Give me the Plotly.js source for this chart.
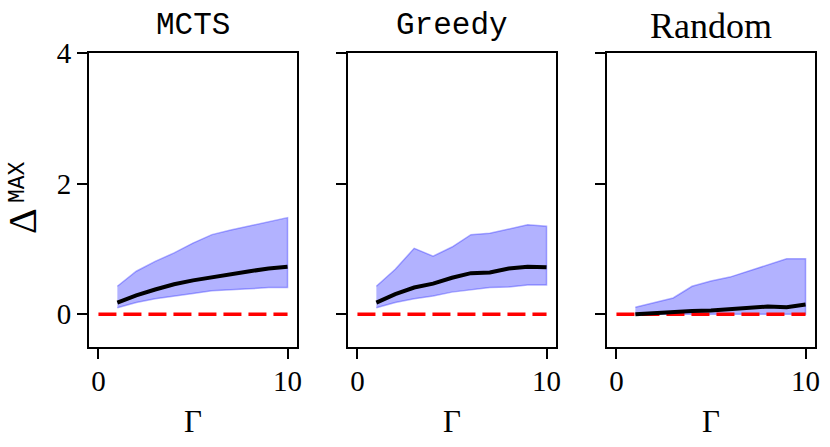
<!DOCTYPE html>
<html>
<head>
<meta charset="utf-8">
<script src="https://cdn.plot.ly/plotly-3.0.1.min.js"></script>
<style>
  html, body { margin: 0; padding: 0; background: #fff; }
  #chart { width: 830px; height: 447px; }
</style>
</head>
<body>
<div id="chart"></div>
<script>
// Gamma values shared by all three panels
const gamma = [1, 2, 3, 4, 5, 6, 7, 8, 9, 10];

// MCTS
const mctsMean  = [0.18, 0.29, 0.38, 0.46, 0.52, 0.57, 0.62, 0.66, 0.70, 0.73];
const mctsUpper = [0.43, 0.66, 0.81, 0.94, 1.09, 1.22, 1.29, 1.35, 1.42, 1.48];
const mctsLower = [0.10, 0.18, 0.24, 0.28, 0.32, 0.36, 0.37, 0.39, 0.41, 0.41];

// Greedy
const greedyMean  = [0.18, 0.31, 0.41, 0.47, 0.56, 0.63, 0.64, 0.70, 0.73, 0.72];
const greedyUpper = [0.43, 0.69, 1.01, 0.89, 1.03, 1.22, 1.24, 1.31, 1.37, 1.35];
const greedyLower = [0.10, 0.18, 0.24, 0.28, 0.34, 0.37, 0.41, 0.42, 0.45, 0.45];

// Random
const randomMean  = [0.00, 0.02, 0.03, 0.05, 0.06, 0.08, 0.10, 0.12, 0.11, 0.15];
const randomUpper = [0.11, 0.18, 0.25, 0.43, 0.51, 0.57, 0.66, 0.76, 0.85, 0.85];
const randomLower = [0.00, 0.00, 0.00, 0.00, 0.00, 0.00, 0.00, 0.00, 0.00, 0.00];

// Zero reference line
const zeroX = [0, 10];
const zeroY = [0, 0];

const panelTitles = ['MCTS', 'Greedy', 'Random'];
const panelFonts = ['Liberation Mono', 'Liberation Mono', 'Liberation Serif'];
const xTicks = [0, 10];
const yTicks = [0, 2, 4];

const panels = [
    { mean: mctsMean, upper: mctsUpper, lower: mctsLower },
    { mean: greedyMean, upper: greedyUpper, lower: greedyLower },
    { mean: randomMean, upper: randomUpper, lower: randomLower }
];

const W = 830, H = 447;
const panelLeft = [89, 348, 607];
const panelWidth = 208;
const plotTop = 53, plotBottom = 347;

const serif = 'Liberation Serif';
const mono = 'Liberation Mono';

const traces = [];
panels.forEach((p, i) => {
    const xa = i === 0 ? 'x' : 'x' + (i + 1);
    const ya = i === 0 ? 'y' : 'y' + (i + 1);
    // band polygon: upper forward, lower reversed
    traces.push({
        x: gamma.concat(gamma.slice().reverse()),
        y: p.upper.concat(p.lower.slice().reverse()),
        xaxis: xa, yaxis: ya,
        type: 'scatter', mode: 'lines',
        fill: 'toself',
        fillcolor: 'rgba(0,0,255,0.3)',
        line: { color: 'rgba(0,0,255,0.3)', width: 1.5 },
        hoverinfo: 'skip'
    });
    traces.push({
        x: zeroX, y: zeroY,
        xaxis: xa, yaxis: ya,
        type: 'scatter', mode: 'lines',
        line: { color: '#ff0000', width: 3.5, dash: '18px,7px' }
    });
    traces.push({
        x: gamma, y: p.mean,
        xaxis: xa, yaxis: ya,
        type: 'scatter', mode: 'lines',
        line: { color: '#000000', width: 4 }
    });
});

const layout = {
    width: W,
    height: H,
    margin: { l: 0, r: 0, t: 0, b: 0 },
    showlegend: false,
    paper_bgcolor: '#ffffff',
    plot_bgcolor: '#ffffff',
    font: { family: serif, color: '#000000', size: 28 },
    annotations: []
};

panels.forEach((p, i) => {
    const sfx = i === 0 ? '' : String(i + 1);
    const x0 = panelLeft[i] / W;
    const x1 = (panelLeft[i] + panelWidth) / W;
    layout['xaxis' + sfx] = {
        domain: [x0, x1],
        anchor: 'y' + sfx,
        range: [-0.5, 10.5],
        tickvals: xTicks,
        ticks: 'outside', ticklen: 10, tickwidth: 2, tickcolor: '#000',
        showline: true, linewidth: 2, linecolor: '#000', mirror: true,
        showgrid: false, zeroline: false,
        tickfont: { family: serif, size: 29 },
        ticklabelstandoff: -3
    };
    layout['yaxis' + sfx] = {
        domain: [1 - plotBottom / H, 1 - plotTop / H],
        anchor: 'x' + sfx,
        range: [-0.5, 4],
        tickvals: yTicks,
        ticks: 'outside', ticklen: 10, tickwidth: 2, tickcolor: '#000',
        showline: true, linewidth: 2, linecolor: '#000', mirror: true,
        showgrid: false, zeroline: false,
        showticklabels: i === 0,
        tickfont: { family: serif, size: 29 }
    };
    const cx = (panelLeft[i] + panelWidth / 2) / W;
    layout.annotations.push({
        text: panelTitles[i],
        xref: 'paper', yref: 'paper',
        x: cx, y: 1 - 26 / H,
        xanchor: 'center', yanchor: 'middle',
        showarrow: false,
        font: { family: panelFonts[i], size: i === 2 ? 36 : 31, color: '#000' }
    });
    layout.annotations.push({
        text: 'Γ',
        xref: 'paper', yref: 'paper',
        x: cx, y: 1 - 421 / H,
        xanchor: 'center', yanchor: 'middle',
        showarrow: false,
        font: { family: serif, size: 31, color: '#000' }
    });
});

// y label: Δ with a typewriter MAX superscript, drawn as two rotated pieces
layout.annotations.push({
    text: 'Δ',
    xref: 'paper', yref: 'paper',
    x: 22 / W, y: 1 - 221 / H,
    xanchor: 'center', yanchor: 'middle',
    textangle: -90,
    showarrow: false,
    font: { family: serif, size: 40, color: '#000' }
});
layout.annotations.push({
    text: 'MAX',
    xref: 'paper', yref: 'paper',
    x: 18 / W, y: 1 - 182 / H,
    xanchor: 'center', yanchor: 'middle',
    textangle: -90,
    showarrow: false,
    font: { family: mono, size: 23, color: '#000' }
});

Plotly.newPlot('chart', traces, layout, { displayModeBar: false, staticPlot: true });
</script>
</body>
</html>
